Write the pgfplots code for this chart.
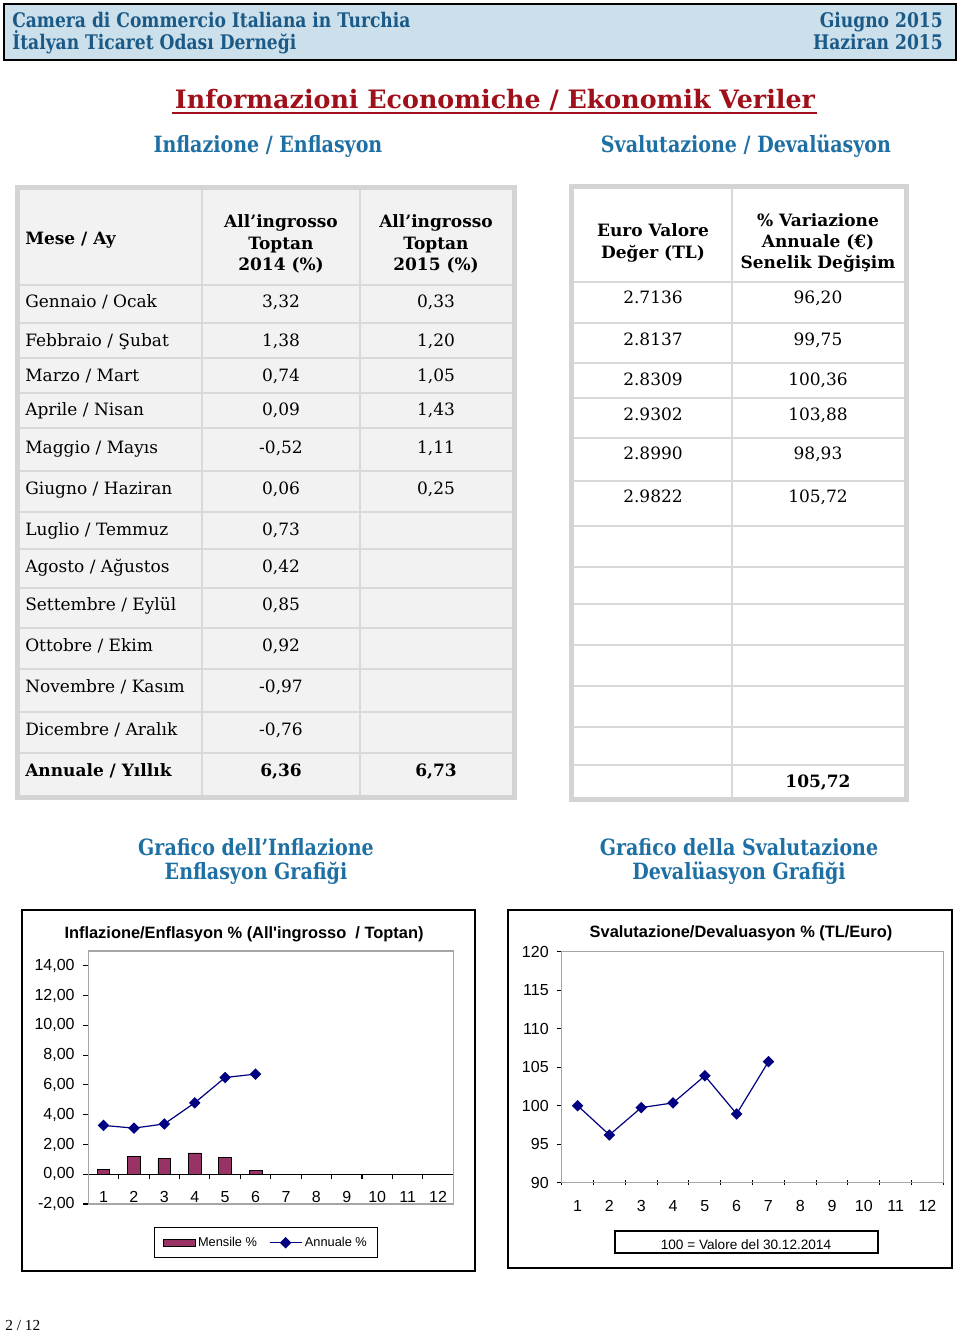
\documentclass[border=0pt]{standalone}
\usepackage{fontspec}
\setmainfont{DejaVu Serif}
\newfontfamily\bkc{DejaVu Serif}[FakeStretch=0.85]
\newfontfamily\ar{Liberation Sans}
\newfontfamily\tms{Liberation Serif}
\usepackage{pgfplots}
\pgfplotsset{compat=1.18}

\definecolor{hdrbg}{HTML}{CCE0EC}
\definecolor{hdrtxt}{HTML}{1B5A87}
\definecolor{subtxt}{HTML}{1E6FA3}
\definecolor{titred}{HTML}{A0101A}
\definecolor{tblbg}{HTML}{F2F2F2}
\definecolor{tblline}{HTML}{D9D9D9}
\definecolor{tblout}{HTML}{D4D4D4}
\definecolor{barcol}{HTML}{993366}
\definecolor{navy}{HTML}{000080}
\definecolor{plotgray}{HTML}{A6A6A6}

\pgfplotsset{
  mylinelegend/.style={legend image code/.code={%
    \draw[mark repeat=2, mark phase=2, ##1] plot coordinates {(0pt,0pt)(12pt,0pt)(24pt,0pt)};}},
  mybarlegend/.style={legend image code/.code={%
    \draw[fill=barcol, draw=black, line width=0.6pt] (0pt,-2.6pt) rectangle (24pt,2.6pt);}},
}

\newcommand\tf{\fontsize{12.75}{15.75}\selectfont}
\newcommand\tb{\bfseries\fontsize{12.75}{16}\selectfont}

% table rows (pixel coordinates, y downwards)
\newcommand\lrow[4]{%
  \node[anchor=mid west] at (25,#1) {#2};
  \node[anchor=mid] at (281,#1) {#3};
  \node[anchor=mid] at (436,#1) {#4};}
\newcommand\rrow[3]{%
  \node[anchor=mid] at (653,#1) {#2};
  \node[anchor=mid] at (818,#1) {#3};}

\begin{document}
\begin{tikzpicture}
\begin{scope}[x=0.75pt, y=-0.75pt, every node/.style={inner sep=0pt, yshift=-3pt}]
\path (0,0) rectangle (960,1335);

% header band
\draw[fill=hdrbg, line width=1.5pt] (4,4) rectangle (956,60);
\begin{scope}[hdrtxt, font=\bkc\bfseries\fontsize{15.1}{17}\selectfont]
  \node[anchor=mid west] at (12,20) {Camera di Commercio Italiana in Turchia};
  \node[anchor=mid west] at (12,42) {İtalyan Ticaret Odası Derneği};
  \node[anchor=mid east] at (943,20) {Giugno 2015};
  \node[anchor=mid east] at (943,42) {Haziran 2015};
\end{scope}

% title
\node[titred, anchor=mid, font=\bfseries\fontsize{19}{22}\selectfont] at (495,101)
  {Informazioni Economiche / Ekonomik Veriler};
\draw[titred, line width=1.6pt] (172,113) -- (817,113);

\begin{scope}[subtxt, font=\bkc\bfseries\fontsize{16.8}{19}\selectfont]
  \node[anchor=mid] at (268,145) {Inflazione / Enflasyon};
  \node[anchor=mid] at (746,145) {Svalutazione / Devalüasyon};
  \node[anchor=mid] at (256,848) {Grafico dell’Inflazione};
  \node[anchor=mid] at (256,872) {Enflasyon Grafiği};
  \node[anchor=mid] at (739,848) {Grafico della Svalutazione};
  \node[anchor=mid] at (739,872) {Devalüasyon Grafiği};
\end{scope}

% left table
\fill[tblbg] (15,185) rectangle (517,800);
\draw[tblline, line width=1.5pt] (202,190) -- (202,795) (360,190) -- (360,795);
\foreach \yy in {285,323,358,393,428,471,512,549,588,628,669,712,753}
  \draw[tblline, line width=1.5pt] (20,\yy) -- (512,\yy);
\draw[tblout, line width=3.75pt] (17.5,187.5) rectangle (514.5,797.5);

% right table
\fill[white] (569,184) rectangle (909,801);
\draw[tblline, line width=1.5pt] (732,189) -- (732,798);
\foreach \yy in {282,323,363,398,438,481,526,567,604,645,686,727,765}
  \draw[tblline, line width=1.5pt] (574,\yy) -- (904,\yy);
\draw[tblout, line width=3.75pt] (571.5,186.5) rectangle (906.5,799.5);

\begin{scope}[font=\tf]
  \node[anchor=mid west, font=\tb] at (25,237) {Mese / Ay};
  \node[align=center, font=\tb] at (281,240) {All’ingrosso\\Toptan\\2014 (\%)};
  \node[align=center, font=\tb] at (436,240) {All’ingrosso\\Toptan\\2015 (\%)};
  \node[align=center, font=\tb] at (653,239) {Euro Valore\\Değer (TL)};
  \node[align=center, font=\tb] at (818,239) {\% Variazione\\Annuale (€)\\Senelik Değişim};
  \lrow{300}{Gennaio / Ocak}{3,32}{0,33}
  \lrow{339}{Febbraio / Şubat}{1,38}{1,20}
  \lrow{374}{Marzo / Mart}{0,74}{1,05}
  \lrow{408}{Aprile / Nisan}{0,09}{1,43}
  \lrow{446}{Maggio / Mayıs}{-0,52}{1,11}
  \lrow{487}{Giugno / Haziran}{0,06}{0,25}
  \lrow{528}{Luglio / Temmuz}{0,73}{}
  \lrow{565}{Agosto / Ağustos}{0,42}{}
  \lrow{603}{Settembre / Eylül}{0,85}{}
  \lrow{644}{Ottobre / Ekim}{0,92}{}
  \lrow{685}{Novembre / Kasım}{-0,97}{}
  \lrow{728}{Dicembre / Aralık}{-0,76}{}
  \lrow{769}{\textbf{Annuale / Yıllık}}{\textbf{6,36}}{\textbf{6,73}}
  \rrow{296}{2.7136}{96,20}
  \rrow{338}{2.8137}{99,75}
  \rrow{378}{2.8309}{100,36}
  \rrow{413}{2.9302}{103,88}
  \rrow{452}{2.8990}{98,93}
  \rrow{495}{2.9822}{105,72}
  \node[anchor=mid, font=\tb] at (818,780) {105,72};
\end{scope}

% chart frames and texts
\draw[line width=1pt] (22,910) rectangle (475,1271);
\draw[line width=1pt] (508,910) rectangle (952,1268);
\node[anchor=mid, font=\ar\bfseries\fontsize{12.3}{14}\selectfont] at (244,931)
  {Inflazione/Enflasyon \% (All\textquotesingle ingrosso\ \ / Toptan)};
\node[anchor=mid, font=\ar\bfseries\fontsize{12.3}{14}\selectfont] at (741,930)
  {Svalutazione/Devaluasyon \% (TL/Euro)};
\draw[line width=0.8pt] (615,1231) rectangle (878,1253);
\node[anchor=mid, font=\ar\fontsize{10.2}{12}\selectfont] at (746,1242) {100 = Valore del 30.12.2014};

\node[anchor=mid west, font=\tms\fontsize{11.5}{13}\selectfont] at (5,1323) {2 / 12};
\end{scope}

% inflation chart
\begin{axis}[
  at={(66.2pt,-903pt)}, anchor=south west,
  scale only axis, width=273.75pt, height=189.75pt,
  xmin=0.5, xmax=12.5, ymin=-2, ymax=15,
  axis x line*=middle, axis y line*=left,
  x axis line style={-}, y axis line style={-},
  axis line style={black, line width=0.8pt},
  xtick={0.5,1.5,...,12.5}, xticklabels={},
  extra x ticks={1,2,...,12},
  extra x tick labels={1,2,3,4,5,6,7,8,9,10,11,12},
  extra x tick style={major tick length=0pt, xticklabel style={yshift=-9.5pt}},
  ytick={-2,0,...,14},
  tick align=outside, major tick length=3.75pt,
  tick style={black, line width=0.8pt},
  /pgf/number format/assume math mode=true,
  ticklabel style={font=\ar\fontsize{12}{14}\selectfont},
  yticklabel style={/pgf/number format/fixed, /pgf/number format/fixed zerofill,
    /pgf/number format/precision=2, /pgf/number format/use comma, xshift=-3pt},
  legend style={at={(0.487,-0.092)}, anchor=north, draw=black, line width=0.8pt,
    font=\ar\fontsize{9.6}{11}\selectfont, inner xsep=6pt, inner ysep=5pt,
    /tikz/every even column/.append style={column sep=7pt}},
  legend columns=2, legend cell align=left,
  clip=false,
]
\draw[plotgray, line width=0.8pt] (rel axis cs:0,0) rectangle (rel axis cs:1,1);
\addplot[ybar, bar width=0.42, fill=barcol, draw=black, line width=0.6pt, mybarlegend]
  coordinates {(1,0.33)(2,1.20)(3,1.05)(4,1.43)(5,1.11)(6,0.25)};
\addlegendentry{Mensile \%}
\addplot[navy, line width=0.9pt, mark=square*, mark size=2.6pt,
  mark options={rotate=45, solid, fill=navy}, mylinelegend]
  coordinates {(1,3.28)(2,3.10)(3,3.38)(4,4.80)(5,6.50)(6,6.73)};
\addlegendentry{Annuale \%}
\end{axis}

% devaluation chart
\begin{axis}[
  at={(421.3pt,-887pt)}, anchor=south west,
  scale only axis, width=286.2pt, height=173.25pt,
  xmin=0.5, xmax=12.5, ymin=90, ymax=120,
  axis x line*=bottom, axis y line*=left,
  x axis line style={-}, y axis line style={-},
  axis line style={black, line width=0.8pt},
  xtick={0.5,1.5,...,12.5}, xticklabels={},
  extra x ticks={1,2,...,12},
  extra x tick labels={1,2,3,4,5,6,7,8,9,10,11,12},
  extra x tick style={major tick length=0pt, xticklabel style={yshift=-9.5pt}},
  ytick={90,95,...,120},
  xtick align=center, ytick align=outside, major tick length=3.75pt,
  tick style={black, line width=0.8pt},
  /pgf/number format/assume math mode=true,
  ticklabel style={font=\ar\fontsize{12}{14}\selectfont},
  yticklabel style={xshift=-2.5pt},
  clip=false,
]
\draw[plotgray, line width=0.8pt] (rel axis cs:0,0) rectangle (rel axis cs:1,1);
\addplot[navy, line width=0.9pt, mark=square*, mark size=2.6pt,
  mark options={rotate=45, solid, fill=navy}]
  coordinates {(1,100.00)(2,96.20)(3,99.75)(4,100.36)(5,103.88)(6,98.93)(7,105.72)};
\end{axis}
\end{tikzpicture}
\end{document}
